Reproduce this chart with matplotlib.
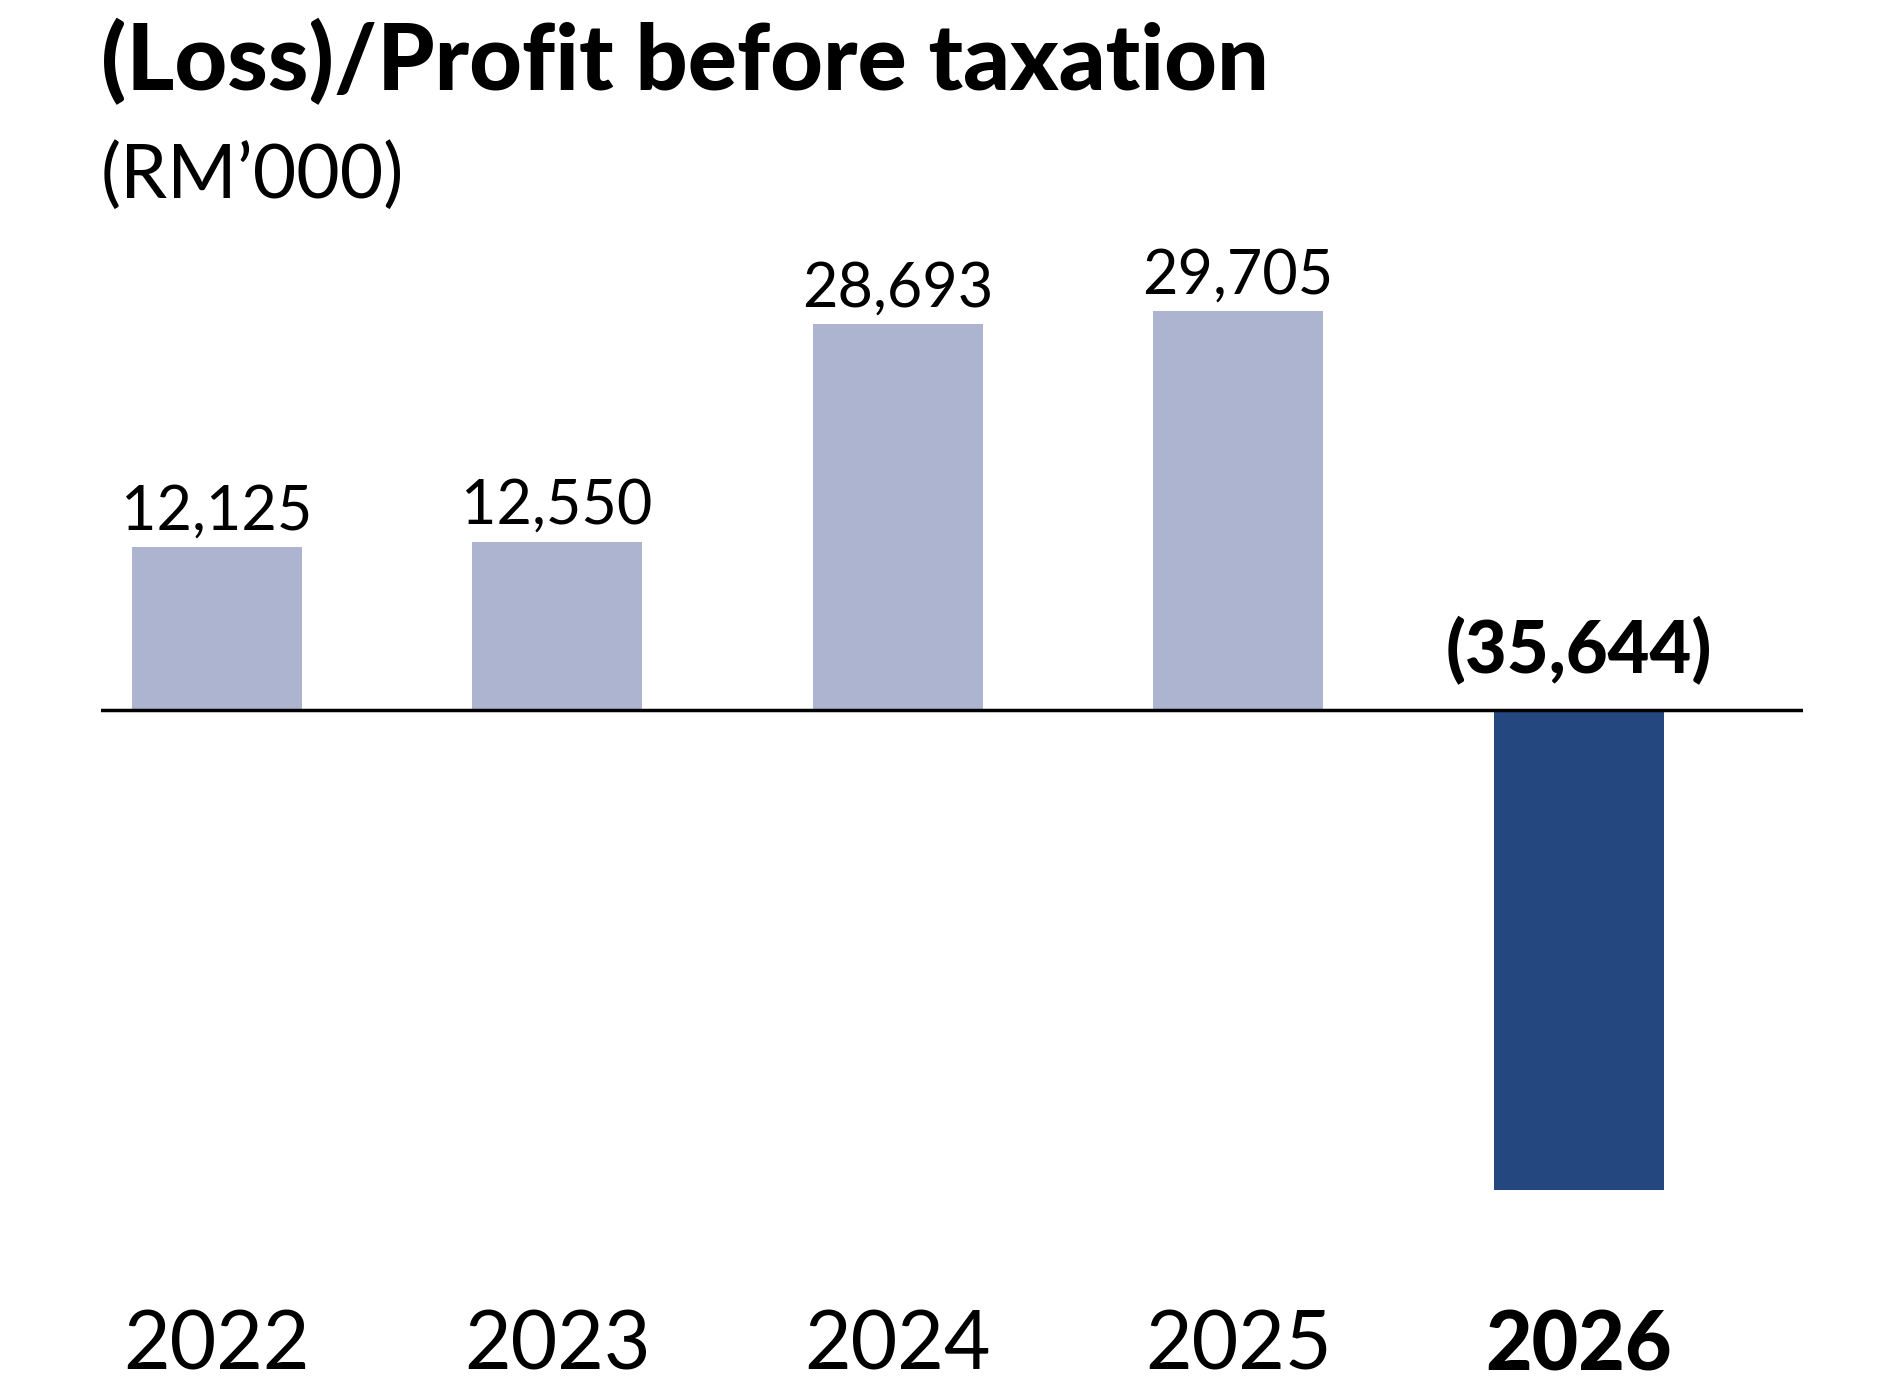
import matplotlib.pyplot as plt

years = ["2022", "2023", "2024", "2025", "2026"]
values = [12125, 12550, 28693, 29705, -35644]
labels = ["12,125", "12,550", "28,693", "29,705", "(35,644)"]
colors = ["#acb4cf", "#acb4cf", "#acb4cf", "#acb4cf", "#25477f"]

plt.rcParams['font.family'] = ['Lato', 'DejaVu Sans']

fig = plt.figure(figsize=(18.96, 13.84), dpi=100)
ax = fig.add_axes([0.0532, 0.1213, 0.898, 0.703])
x = list(range(len(years)))
ax.bar(x, values, width=0.5, color=colors)
ax.axhline(0, color="black", lw=2.5)
ax.set_xlim(-0.34, 4.66)
ax.set_ylim(-37600, 34735)
ax.axis("off")

for i, (v, lab) in enumerate(zip(values, labels)):
    if v >= 0:
        ax.text(i, v + 500, lab, ha="center", va="bottom", fontsize=44)
    else:
        ax.text(i, 1800, lab, ha="center", va="bottom", fontsize=52, fontweight="black")
    ax.text(i, -47300, years[i], ha="center", va="center", fontsize=58,
            fontweight="black" if i == len(years) - 1 else "normal")

fig.text(0.0532, 0.955, "(Loss)/Profit before taxation", fontsize=66,
         fontweight="black", va="center", ha="left")
fig.text(0.0532, 0.873, "(RM\u2019000)", fontsize=54, va="center", ha="left")

plt.savefig("out.png", dpi=100)
